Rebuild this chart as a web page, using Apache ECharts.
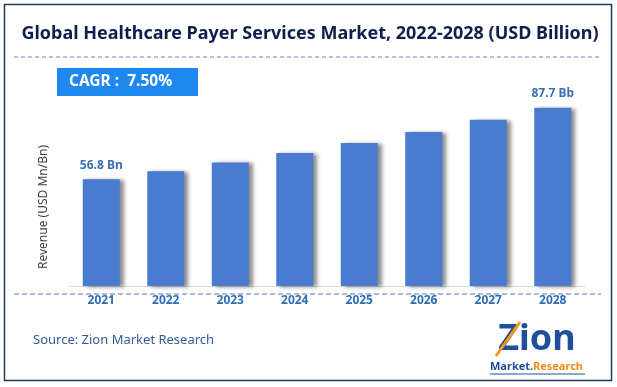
<!DOCTYPE html>
<html>
<head>
<meta charset="utf-8">
<script src="https://cdn.jsdelivr.net/npm/echarts@6/dist/echarts.min.js"></script>
<style>
html,body{margin:0;padding:0;background:#fff;}
#chart{width:617px;height:387px;}
</style>
</head>
<body>
<div id="chart"></div>
<script>
const years = ['2021','2022','2023','2024','2025','2026','2027','2028'];
const revenue = [56.8, 60.3, 64.1, 68.2, 72.5, 77.2, 82.5, 87.7];
const barLabels = ['56.8 Bn', '', '', '', '', '', '', '87.7 Bb'];
const titleText = 'Global Healthcare Payer Services Market, 2022-2028 (USD Billion)';
const cagrText = 'CAGR :  7.50%';
const yAxisName = 'Revenue (USD Mn/Bn)';
const sourceText = 'Source: Zion Market Research';

const chart = echarts.init(document.getElementById('chart'));
const FONT = 'Noto Sans';
chart.setOption({
  backgroundColor: '#ffffff',
  animation: false,
  grid: {left: 69, right: 32, top: 70, bottom: 101},
  xAxis: {
    type: 'category',
    data: years,
    axisLine: {show: true, lineStyle: {color: '#d9d9d9', width: 1}},
    axisTick: {show: false},
    axisLabel: {color: '#2e6db4', fontWeight: 'bold', fontSize: 12, fontFamily: FONT, margin: 9}
  },
  yAxis: {
    type: 'value',
    min: 10.75,
    max: 104,
    show: false,
    splitLine: {show: false}
  },
  series: [{
    type: 'bar',
    data: revenue,
    barWidth: 37,
    itemStyle: {
      color: '#4a7bd1',
      shadowColor: 'rgba(0,0,0,0.45)',
      shadowBlur: 4,
      shadowOffsetX: 4,
      shadowOffsetY: 1
    },
    label: {
      show: true,
      position: 'top',
      distance: 8,
      color: '#3a70b6',
      fontWeight: 'bold',
      fontSize: 12,
      fontFamily: FONT,
      formatter: p => barLabels[p.dataIndex]
    }
  }],
  graphic: [
    {type: 'rect', shape: {x: 4.5, y: 4.5, width: 607, height: 376}, style: {fill: 'none', stroke: '#1f3a60', lineWidth: 1.5}, silent: true},
    {type: 'text', x: 310, y: 34, style: {text: titleText, font: 'bold 18px "Noto Sans"', fill: '#0e1f4d', align: 'center', verticalAlign: 'middle'}},
    {type: 'line', shape: {x1: 14, y1: 57, x2: 602, y2: 57}, style: {stroke: '#6a86b8', lineWidth: 1, lineDash: [4, 3]}},
    {type: 'rect', shape: {x: 57, y: 68, width: 141, height: 28}, style: {fill: '#1e88f0'}},
    {type: 'text', x: 69, y: 82, style: {text: cagrText, font: 'bold 15.5px "Noto Sans"', fill: '#ffffff', align: 'left', verticalAlign: 'middle'}},
    {type: 'text', x: 44, y: 207, rotation: Math.PI / 2, style: {text: yAxisName, font: '12px "Noto Sans"', fill: '#404040', align: 'center', verticalAlign: 'middle'}},
    {type: 'line', shape: {x1: 14, y1: 294, x2: 601, y2: 294}, style: {stroke: '#4a78c8', lineWidth: 1, lineDash: [5, 3]}},
    {type: 'text', x: 33, y: 340, style: {text: sourceText, font: '13px "Noto Sans"', fill: '#2f5b9a', align: 'left', verticalAlign: 'middle'}},
    {type: 'text', x: 537, y: 340, style: {text: 'Zion', font: 'bold 36px "Noto Sans"', fill: '#1f4e9a', align: 'center', verticalAlign: 'middle'}},
    {type: 'line', shape: {x1: 496, y1: 356, x2: 520, y2: 322}, style: {stroke: '#f39c1a', lineWidth: 3}},
    {type: 'text', x: 490, y: 367, style: {text: 'Market.', font: 'bold 11px "Noto Sans"', fill: '#1f4e9a', align: 'left', verticalAlign: 'middle'}},
    {type: 'text', x: 533, y: 367, style: {text: 'Research', font: 'bold 11px "Noto Sans"', fill: '#f08c1a', align: 'left', verticalAlign: 'middle'}},
    {type: 'line', shape: {x1: 490, y1: 374, x2: 585, y2: 374}, style: {stroke: '#1f4e9a', lineWidth: 1}}
  ]
});
</script>
</body>
</html>
